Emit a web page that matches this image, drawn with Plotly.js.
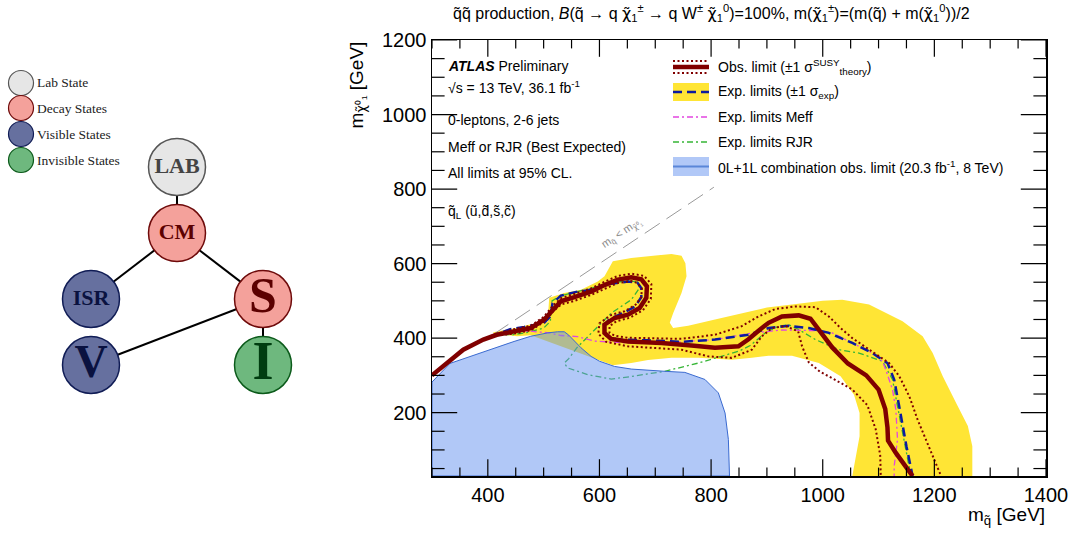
<!DOCTYPE html>
<html>
<head>
<meta charset="utf-8">
<script src="https://cdn.plot.ly/plotly-3.0.1.min.js"></script>
<style>html,body{margin:0;padding:0;background:#fff;}#chart{width:1074px;height:536px;}</style>
</head>
<body>
<div id="chart"></div>
<script>
// ---------------- data (GeV) ----------------
const obsX = [300,356,392,416,447,477,501,519,531,555,585,610,633,657,675,685,684,672,651,627,609,609,621,651,711,765,807,849,867,885,903,927,957,978,995,1017,1045,1078,1100,1112,1116,1117,1131,1161];
const obsY = [300,369,396,409,418,427,450,481,499,510,525,543,557,563,558,539,508,481,463,454,436,414,398,391,387,380,374,378,397,420,441,458,461,452,420,375,332,300,262,210,160,125,92,30];

const obsUpX = [300,356,392,416,447,477,500,518,531,555,585,610,633,657,680,693,692,678,655,630,618,618,628,651,711,747,807,855,885,915,951,987,1011,1032,1053,1095,1119,1137,1155,1170,1182,1197,1212];
const obsUpY = [300,369,396,411,424,433,457,489,507,518,533,552,567,573,567,545,505,475,455,445,432,414,406,401,398,398,409,432,458,478,485,483,458,427,400,356,333,298,244,181,137,83,30];

const obsDnX = [300,356,392,416,447,477,500,517,531,555,585,610,633,657,668,676,675,665,645,622,600,598,612,651,711,747,795,837,873,891,909,933,956,963,975,995,1020,1053,1080,1095,1103,1104];
const obsDnY = [300,369,396,407,412,421,443,472,490,500,516,533,548,553,548,533,510,490,472,463,440,412,390,378,373,369,351,347,369,405,427,433,418,378,335,310,290,262,220,155,85,30];

const expX = [300,356,392,416,440,465,500,512,516,531,561,579,609,651,668,675,675,664,642,618,606,612,633,687,747,807,867,903,939,975,1011,1053,1089,1116,1128,1137,1143,1150,1161];
const expY = [300,369,396,410,424,430,440,458,494,514,525,528,543,552,549,534,510,485,467,451,432,407,396,394,390,396,409,427,433,427,414,387,360,333,289,217,164,110,30];

const meffX = [300,356,392,410,440,480,510,531,561,591,651,711,747,807,867,927,957,987,1017,1053,1089,1107,1113,1125,1131,1134,1128,1128];
const meffY = [300,369,396,410,420,418,414,407,404,392,387,390,390,396,412,422,422,420,414,387,360,338,315,262,208,128,56,30];

const rjrX = [300,356,392,416,444,470,500,512,515,531,561,609,651,668,672,657,621,591,560,545,537,543,579,621,657,717,777,820,850,870,897,921,939,957,987,1029,1065,1107,1125,1134,1143,1158];
const rjrY = [300,369,396,410,409,415,427,445,500,514,525,543,555,550,535,503,467,423,375,345,333,320,302,290,297,311,333,352,365,380,414,432,436,423,396,369,360,338,289,217,146,30];

const bandX = [410,453,477,507,510,537,567,597,609,624,657,693,729,747,754,756,747,732,726,732,759,807,855,900,945,1000,1035,1083,1143,1179,1197,1215,1239,1260,1268,1268,1053,1058,1066,1066,1056,1032,993,945,903,873,837,777,729,687,657,624,549,477,453,410];
const bandY = [416,428,437,443,508,521,530,552,566,606,615,621,626,621,601,566,521,467,441,427,433,450,466,482,490,500,503,490,445,405,360,298,226,164,110,30,30,74,137,199,248,298,333,353,353,347,342,347,347,341,333,327,369,408,405,412];

const run1X = [300,300,332,386,422,447,477,507,525,537,545,567,585,600,627,657,717,753,789,813,825,831,833,300];
const run1Y = [30,282,332,360,378,391,405,414,417,417,408,374,351,338,324,317,311,308,289,253,199,128,30,30];

const diagX = [410,805];
const diagY = [410,805];

// tree diagram
const nodeNames = ['LAB','CM','ISR','S','V','I'];
const nodeKinds = ['lab','decay','visible','decay','visible','invisible'];
const edges = [['LAB','CM'],['CM','ISR'],['CM','S'],['S','V'],['S','I']];
const keyNames = ['Lab State','Decay States','Visible States','Invisible States'];
const keyKinds = ['lab','decay','visible','invisible'];

// ---------------- styling / layout helpers ----------------
const W = 1074, H = 536;
const XR = [300, 1400], YR = [30, 1200];
const kindStyle = {
  lab:       {fill:'#e6e6e6', edge:'#555555', text:'#444444'},
  decay:     {fill:'#f4a19b', edge:'#6e0a0a', text:'#5c0000'},
  visible:   {fill:'#66709f', edge:'#101c55', text:'#0a1240'},
  invisible: {fill:'#6eb87e', edge:'#0b5a1a', text:'#003d10'}
};
const nodePos = {LAB:[177,167], CM:[177,233], ISR:[91,299], S:[263,299], V:[91,365], I:[263,365]};
const nodeFont = {LAB:22, CM:22, ISR:22, S:50, V:46, I:54};
const keyPos = [[21,83],[21,108],[21,134],[21,160]];

const SANS = 'Liberation Sans, Arial, Helvetica, sans-serif';
const SERIF = 'Liberation Serif, Times New Roman, serif';
const CHI = '<span style="font-family:DejaVu Sans">χ̃</span>';

const YELLOW = '#ffe535';
const RUN1FILL = 'rgba(100,145,240,0.5)';
const RUN1LINE = '#3a6ad0';
const OBS = '#800000';
const EXP = '#0c1aa0';
const MEFF = '#e246e0';
const RJR = '#36b536';

// pixel -> paper (margins are zero, so paper == whole figure)
const px = v => v / W;
const py = v => 1 - v / H;

const traces = [];
// main plot
traces.push({x:bandX, y:bandY, type:'scatter', mode:'lines', fill:'toself', fillcolor:YELLOW, line:{width:0, color:YELLOW}, xaxis:'x', yaxis:'y'});
traces.push({x:diagX, y:diagY, type:'scatter', mode:'lines', line:{color:'#9a9a9a', width:1, dash:'18px,8px'}});
traces.push({x:rjrX, y:rjrY, type:'scatter', mode:'lines', line:{color:RJR, width:1.3, dash:'6px,3px,2px,3px'}});
traces.push({x:meffX, y:meffY, type:'scatter', mode:'lines', line:{color:MEFF, width:1.3, dash:'6px,3px,2px,3px'}});
traces.push({x:expX, y:expY, type:'scatter', mode:'lines', line:{color:EXP, width:2.5, dash:'9px,5px'}});
traces.push({x:run1X, y:run1Y, type:'scatter', mode:'lines', fill:'toself', fillcolor:RUN1FILL, line:{color:RUN1LINE, width:1}});
traces.push({x:obsDnX, y:obsDnY, type:'scatter', mode:'lines', line:{color:OBS, width:2, dash:'2px,2.5px'}});
traces.push({x:obsUpX, y:obsUpY, type:'scatter', mode:'lines', line:{color:OBS, width:2, dash:'2px,2.5px'}});
traces.push({x:obsX, y:obsY, type:'scatter', mode:'lines', line:{color:OBS, width:4.5}});

// frame ticks on all four sides (half of each marker is clipped away at the frame)
function tickVals(lo, hi, step) { const out = []; for (let v = Math.ceil(lo / step) * step; v <= hi; v += step) out.push(v); return out; }
const xMaj = tickVals(XR[0], XR[1], 200), xMin = tickVals(XR[0], XR[1], 50).filter(v => v % 200 !== 0);
const yMaj = tickVals(YR[0], YR[1], 200), yMin = tickVals(YR[0], YR[1], 50).filter(v => v % 200 !== 0);
function tickTrace(xs, ys, symbol, len) {
  return {x:xs, y:ys, type:'scatter', mode:'markers', cliponaxis:true, hoverinfo:'skip',
    marker:{symbol:symbol, size:2 * len, color:'#000', line:{width:1.2, color:'#000'}}};
}
[YR[0], YR[1]].forEach(yv => {
  traces.push(tickTrace(xMaj, xMaj.map(() => yv), 'line-ns', 12));
  traces.push(tickTrace(xMin, xMin.map(() => yv), 'line-ns', 6));
});
[XR[0], XR[1]].forEach(xv => {
  traces.push(tickTrace(yMaj.map(() => xv), yMaj, 'line-ew', 18));
  traces.push(tickTrace(yMin.map(() => xv), yMin, 'line-ew', 9));
});

// diagram edges
const ex = [], ey = [];
edges.forEach(e => { ex.push(nodePos[e[0]][0], nodePos[e[1]][0], null); ey.push(nodePos[e[0]][1], nodePos[e[1]][1], null); });
traces.push({x:ex, y:ey, type:'scatter', mode:'lines', line:{color:'#000', width:2}, xaxis:'x2', yaxis:'y2'});
// diagram nodes
traces.push({
  x: nodeNames.map(n => nodePos[n][0]), y: nodeNames.map(n => nodePos[n][1]),
  text: nodeNames.map(n => '<b>' + n + '</b>'),
  type:'scatter', mode:'markers+text', textposition:'middle center',
  marker:{size:57, color:nodeKinds.map(k => kindStyle[k].fill), line:{width:1.5, color:nodeKinds.map(k => kindStyle[k].edge)}},
  textfont:{family:SERIF, size:nodeNames.map(n => nodeFont[n]), color:nodeKinds.map(k => kindStyle[k].text)},
  xaxis:'x2', yaxis:'y2', cliponaxis:false
});
// key circles
traces.push({
  x: keyPos.map(p => p[0]), y: keyPos.map(p => p[1]),
  type:'scatter', mode:'markers',
  marker:{size:25, color:keyKinds.map(k => kindStyle[k].fill), line:{width:1.2, color:keyKinds.map(k => kindStyle[k].edge)}},
  xaxis:'x2', yaxis:'y2', cliponaxis:false
});

const annotations = [];
function ann(x, y, text, opts) {
  annotations.push(Object.assign({x:px(x), y:py(y), xref:'paper', yref:'paper', text:text, showarrow:false, xanchor:'left', yanchor:'middle',
    font:{family:SANS, size:14, color:'#000'}}, opts || {}));
}
keyNames.forEach((t, i) => ann(35, keyPos[i][1], t, {font:{family:SERIF, size:13.5, color:'#222'}}));

// title
ann(711, 13, 'q̃q̃ production, <i>B</i>(q̃ → q ' + CHI + '<sub>1</sub><sup>±</sup> → q W<sup>±</sup> ' + CHI + '<sub>1</sub><sup>0</sup>)=100%, m(' + CHI + '<sub>1</sub><sup>±</sup>)=(m(q̃) + m(' + CHI + '<sub>1</sub><sup>0</sup>))/2',
  {xanchor:'center', font:{family:SANS, size:16, color:'#000'}});
// axis titles
ann(1047, 516, 'm<sub>q̃</sub> [GeV]', {xanchor:'right', font:{family:SANS, size:19, color:'#000'}});
ann(357, 40, 'm<sub>' + CHI + '⁰₁</sub> [GeV]', {xanchor:'center', yanchor:'top', textangle:-90, font:{family:SANS, size:19, color:'#000'}});

// info text
ann(446, 66, '<b><i>ATLAS</i></b> Preliminary');
ann(446, 87, '√s = 13 TeV, 36.1 fb<sup>-1</sup>');
ann(446, 120, '0-leptons, 2-6 jets');
ann(446, 147, 'Meff or RJR (Best Expected)');
ann(446, 173, 'All limits at 95% CL.');
ann(446, 212, 'q̃<sub>L</sub> (ũ,d̃,s̃,c̃)');

// legend texts
ann(716, 67, 'Obs. limit (±1 σ<sup>SUSY</sup><sub>theory</sub>)');
ann(716, 92, 'Exp. limits (±1 σ<sub>exp</sub>)');
ann(716, 117, 'Exp. limits Meff');
ann(716, 142, 'Exp. limits RJR');
ann(716, 167, '0L+1L combination obs. limit (20.3 fb<sup>-1</sup>, 8 TeV)');

// kinematic line label
annotations.push({x:640, y:682, xref:'x', yref:'y', text:'m<sub>q̃</sub> < m<sub>' + CHI + '⁰₁</sub>', showarrow:false, textangle:-34,
  font:{family:SANS, size:11, color:'#8a8a8a'}});

// legend symbols
const shapes = [];
function ln(x0, x1, y, color, width, dash) { shapes.push({type:'line', xref:'paper', yref:'paper', x0:px(x0), x1:px(x1), y0:py(y), y1:py(y), line:{color:color, width:width, dash:dash || 'solid'}}); }
function rc(x0, x1, y0, y1, fill) { shapes.push({type:'rect', xref:'paper', yref:'paper', x0:px(x0), x1:px(x1), y0:py(y0), y1:py(y1), fillcolor:fill, line:{width:0}}); }
ln(673, 709, 61, OBS, 2, '2px,2.5px');
ln(673, 709, 73, OBS, 2, '2px,2.5px');
ln(673, 709, 67, OBS, 4.5);
rc(673, 709, 83, 101, YELLOW);
ln(673, 709, 92, EXP, 2.5, '9px,5px');
ln(673, 709, 117, MEFF, 1.3, '6px,3px,2px,3px');
ln(673, 709, 142, RJR, 1.3, '6px,3px,2px,3px');
rc(673, 709, 157, 176, RUN1FILL);
ln(673, 709, 166.5, '#5a86d8', 2);

const TICKFONT = {family:SANS, size:20, color:'#000'};

const layout = {
  width:W, height:H, margin:{l:0, r:0, t:0, b:0},
  paper_bgcolor:'#ffffff', plot_bgcolor:'rgba(0,0,0,0)', showlegend:false,
  font:{family:SANS, color:'#000'},
  xaxis:{domain:[432/W, 1046/W], range:XR, tick0:0, dtick:200, ticks:'',
    showgrid:false, zeroline:false, showline:true, linewidth:1.5, linecolor:'#000', mirror:true,
    tickfont:TICKFONT, anchor:'y'},
  yaxis:{domain:[60/H, 496/H], range:YR, tick0:0, dtick:200, ticks:'',
    showgrid:false, zeroline:false, showline:true, linewidth:1.5, linecolor:'#000', mirror:true,
    tickfont:TICKFONT, anchor:'x'},
  xaxis2:{domain:[0, 330/W], range:[0,330], visible:false, anchor:'y2', fixedrange:true},
  yaxis2:{domain:[0,1], range:[H,0], visible:false, anchor:'x2', fixedrange:true},
  annotations:annotations, shapes:shapes
};

Plotly.newPlot('chart', traces, layout, {staticPlot:true, displayModeBar:false});
</script>
</body>
</html>
